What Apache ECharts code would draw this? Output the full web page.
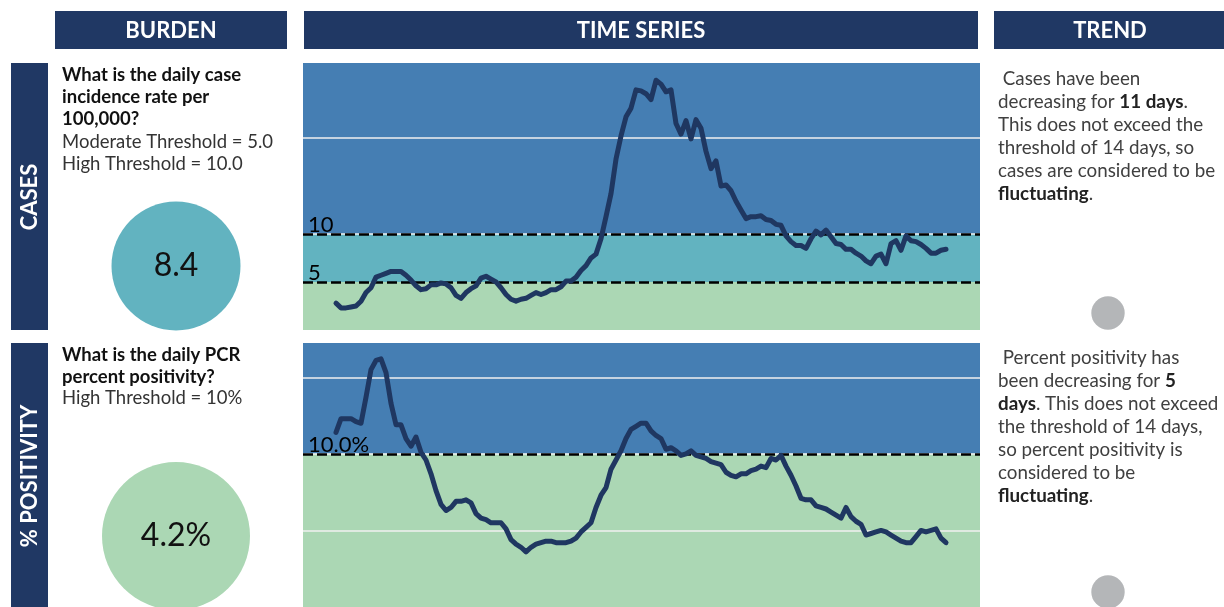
<!DOCTYPE html>
<html>
<head>
<meta charset="utf-8">
<script src="https://cdn.jsdelivr.net/npm/echarts@6/dist/echarts.min.js"></script>
<style>
html,body{margin:0;padding:0;background:#fff;}
#chart{width:1224px;height:607px;}
</style>
</head>
<body>
<div id="chart"></div>
<script>
// ---------------- DATA ----------------
const casesValues = [
  2.8, 2.3, 2.3, 2.4, 2.5, 3.0, 3.9, 4.4, 5.5, 5.7, 5.9, 6.1, 6.1, 6.1, 5.7, 5.2, 4.6, 4.2, 4.3, 4.7,
  4.7, 4.9, 4.8, 4.4, 3.6, 3.3, 3.9, 4.3, 4.6, 5.4, 5.6, 5.3, 5.0, 4.4, 3.7, 3.2, 3.0, 3.2, 3.3, 3.6,
  3.9, 3.7, 3.9, 4.2, 4.2, 4.5, 5.1, 5.1, 5.5, 6.2, 6.7, 7.5, 7.9, 9.5, 11.8, 14.2, 17.8, 20.2, 22.2, 23.1,
  25.0, 24.9,
  24.6, 24.0, 26.0, 25.6, 24.8, 25.0, 21.5, 20.4, 21.8, 19.9, 21.9, 21.0, 18.6, 16.8, 17.6, 15.0, 15.1, 14.5,
  13.4, 12.5, 11.6, 11.8, 11.8, 11.9, 11.5, 11.4, 11.0, 10.9, 9.8, 9.2, 8.8, 8.8, 8.5, 9.5, 10.3, 9.9,
  10.4, 9.7, 9.0, 8.9, 8.4, 8.4, 8.0, 7.7, 7.2, 6.9, 7.7, 7.9, 6.9, 9.0, 9.3, 8.3, 9.8, 9.3, 9.2, 8.9,
  8.5, 8.0, 8.0, 8.3, 8.4
];
const positivityValues = [
  11.4, 12.3, 12.3, 12.3, 12.1, 12.0, 13.7, 15.5, 16.1, 16.2, 15.3, 13.3, 11.9, 11.9, 11.0, 10.5, 11.1, 10.1, 9.6, 8.7,
  7.6, 6.7, 6.3, 6.5, 6.9, 6.9, 7.0, 6.8, 6.1, 5.8, 5.7, 5.5, 5.5, 5.5, 5.1, 4.4, 4.1, 3.9, 3.6, 3.9,
  4.1, 4.2, 4.3, 4.3, 4.2, 4.2, 4.2, 4.3, 4.5, 4.9, 5.2, 5.5, 6.5, 7.3, 7.8, 9.0, 9.6, 10.2, 11.0, 11.6,
  11.8, 12.0,
  12.0, 11.5, 11.2, 11.0, 10.3, 10.4, 10.2, 9.9, 10.0, 10.2, 9.9, 9.8, 9.7, 9.5, 9.4, 9.3, 8.8, 8.6,
  8.5, 8.7, 8.7, 8.9, 9.0, 9.2, 9.1, 9.7, 9.6, 9.9, 9.2, 8.6, 7.9, 7.1, 7.0, 7.0, 6.6, 6.5, 6.4, 6.2,
  6.0, 5.8, 6.5, 5.9, 5.6, 5.4, 4.7, 4.8, 4.9, 5.0, 4.9, 4.7, 4.5, 4.3, 4.2, 4.2, 4.6, 5.0, 4.9, 5.0,
  5.1, 4.5, 4.2
];
const casesThresholds = [5, 10];
const casesThresholdLabels = ['5', '10'];
const casesGridTicks = [10, 20];
const positivityThresholds = [10];
const positivityThresholdLabels = ['10.0%'];
const positivityGridTicks = [5, 10, 15];
const headerLabels = ['BURDEN', 'TIME SERIES', 'TREND'];
const rowLabels = ['CASES', '% POSITIVITY'];
const casesQuestion = ['{b|What is the daily case}', '{b|incidence rate per}', '{b|100,000?}', 'Moderate Threshold = 5.0', 'High Threshold = 10.0'];
const positivityQuestion = ['{b|What is the daily PCR}', '{b|percent positivity?}', 'High Threshold = 10%'];
const casesTrend = [' Cases have been', 'decreasing for {b|11 days}.', 'This does not exceed the', 'threshold of 14 days, so', 'cases are considered to be', '{b|fluctuating}.'];
const positivityTrend = [' Percent positivity has', 'been decreasing for {b|5}', '{b|days}. This does not exceed', 'the threshold of 14 days,', 'so percent positivity is', 'considered to be', '{b|fluctuating}.'];

// ---------------- STYLE ----------------
const NAVY = '#203864';
const BLUE = '#457EB3';
const TEAL = '#62B3C0';
const GREEN = '#ABD7B4';
const LINE = '#1F3761';
const FONT = 'Lato';

const chart = echarts.init(document.getElementById('chart'), null, {renderer: 'canvas'});

const pts = arr => arr.map((v, i) => [i, v]);
const last = arr => arr[arr.length - 1];

function textLines(x, y0, gap, lines, size, fill, boldFill) {
  return lines.map((t, k) => ({
    type: 'text', x: x, y: y0 + k * gap, silent: true,
    style: {
      text: t, fill: fill, fontSize: size, fontFamily: FONT,
      align: 'left', verticalAlign: 'middle', textAlign: 'left', textVerticalAlign: 'middle',
      rich: { b: { fontWeight: 'bold', fill: boldFill, color: boldFill, fontSize: size, fontFamily: FONT } }
    }
  }));
}
function rect(x, y, w, h, c) {
  return {type: 'rect', shape: {x, y, width: w, height: h}, style: {fill: c}, silent: true};
}
function ctext(x, y, t, size, fill, weight, rot) {
  return {type: 'text', x, y, rotation: rot || 0, silent: true,
    style: {text: t, fill, fontSize: size, fontFamily: FONT, fontWeight: weight || 'normal',
      align: 'center', verticalAlign: 'middle', textAlign: 'center', textVerticalAlign: 'middle'}};
}
function circle(cx, cy, r, c) {
  return {type: 'circle', shape: {cx, cy, r}, style: {fill: c}, silent: true};
}

function bgSeries(idx, values, bands, grid, thresholds, labels) {
  const lines = grid.map(v => ({yAxis: v, lineStyle: {color: '#F0F0F0', width: 1.5, type: 'solid'}, label: {show: false}}));
  thresholds.forEach((v, i) => lines.push({
    yAxis: v,
    lineStyle: {color: '#000', width: 2.5, type: [10, 4]},
    label: {show: true, formatter: labels[i], position: 'insideStartTop', color: '#000',
      fontSize: 22, fontFamily: FONT, distance: [5, -2]}
  }));
  return {
    type: 'line', xAxisIndex: idx, yAxisIndex: idx, data: pts(values), symbol: 'none', silent: true, z: 1,
    lineStyle: {opacity: 0},
    markArea: {silent: true, data: bands.map(b => [{yAxis: b[0], itemStyle: {color: b[2]}}, {yAxis: b[1]}])},
    markLine: {silent: true, z: 2, symbol: ['none', 'none'], animation: false, data: lines}
  };
}
function mainSeries(idx, values) {
  return {
    type: 'line', xAxisIndex: idx, yAxisIndex: idx, data: pts(values), symbol: 'none', z: 3, silent: true,
    lineStyle: {color: LINE, width: 5, join: 'round', cap: 'round'}
  };
}

const casesMax = 27.8, posMax = 17.24;

const option = {
  animation: false,
  grid: [
    {left: 303, top: 63, width: 677, height: 267},
    {left: 303, top: 343, width: 677, height: 267}
  ],
  xAxis: [
    {type: 'value', gridIndex: 0, min: -6.6, max: 128.8, show: false},
    {type: 'value', gridIndex: 1, min: -6.6, max: 128.8, show: false}
  ],
  yAxis: [
    {type: 'value', gridIndex: 0, min: 0, max: casesMax, show: false, splitLine: {show: false}},
    {type: 'value', gridIndex: 1, min: 0, max: posMax, show: false, splitLine: {show: false}}
  ],
  series: [
    bgSeries(0, casesValues, [[0, 5, GREEN], [5, 10, TEAL], [10, casesMax, BLUE]], casesGridTicks, casesThresholds, casesThresholdLabels),
    mainSeries(0, casesValues),
    bgSeries(1, positivityValues, [[0, 10, GREEN], [10, posMax, BLUE]], positivityGridTicks, positivityThresholds, positivityThresholdLabels),
    mainSeries(1, positivityValues)
  ],
  graphic: {elements: [
    rect(55, 11, 232, 38, NAVY),
    rect(304, 11, 674, 38, NAVY),
    rect(994, 11, 230, 38, NAVY),
    ctext(171, 31, headerLabels[0], 22, '#fff', 'bold'),
    ctext(641, 31, headerLabels[1], 22, '#fff', 'bold'),
    ctext(1110, 31, headerLabels[2], 22, '#fff', 'bold'),
    rect(11, 63, 37, 267, NAVY),
    rect(11, 343, 37, 264, NAVY),
    ctext(30, 197, rowLabels[0], 22, '#fff', 'bold', Math.PI / 2),
    ctext(30, 476, rowLabels[1], 22, '#fff', 'bold', Math.PI / 2),
    ...textLines(62, 75, 22.2, casesQuestion, 18.5, '#333', '#111'),
    ...textLines(62, 355, 21.7, positivityQuestion, 18.5, '#333', '#111'),
    circle(176, 266, 64.5, TEAL),
    ctext(176, 266, last(casesValues).toFixed(1), 32, '#111', 'normal'),
    circle(176, 536, 74, GREEN),
    ctext(176, 536, last(positivityValues).toFixed(1) + '%', 32, '#111', 'normal'),
    ...textLines(998, 78.5, 23.1, casesTrend, 18.8, '#404040', '#222'),
    ...textLines(998, 357.5, 23.05, positivityTrend, 18.8, '#404040', '#222'),
    circle(1108, 313, 16.7, '#B4B6B8'),
    circle(1108, 592, 16.7, '#B4B6B8')
  ]}
};
chart.setOption(option);
</script>
</body>
</html>
